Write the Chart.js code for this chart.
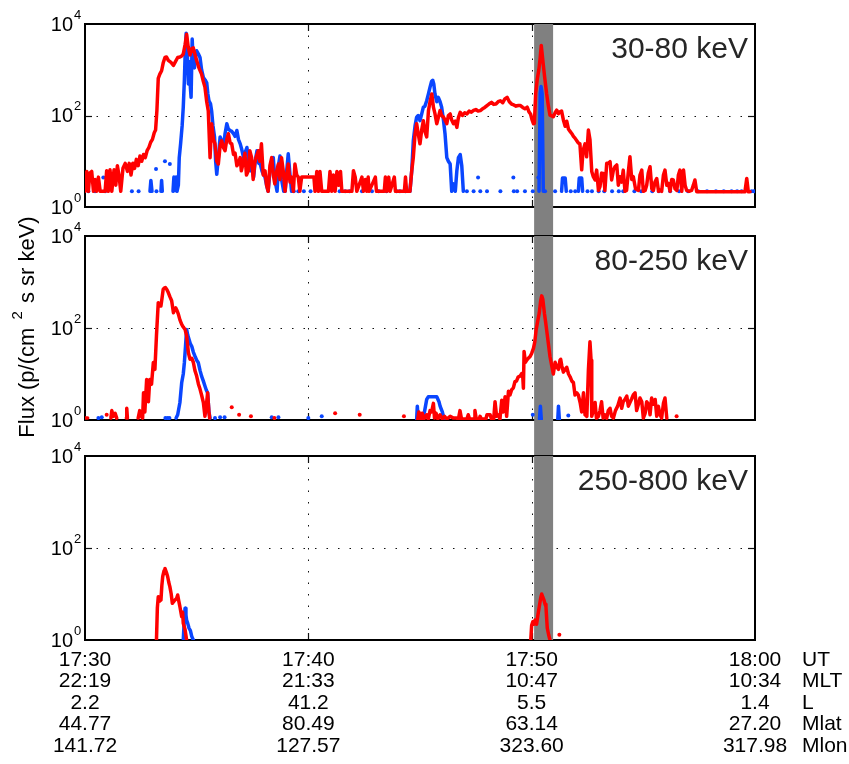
<!DOCTYPE html>
<html>
<head>
<meta charset="utf-8">
<script src="https://cdn.jsdelivr.net/npm/chart.js@4.4.0/dist/chart.umd.min.js"></script>
<style>
html, body { margin: 0; padding: 0; background: #fff; }
#wrap { position: relative; width: 849px; height: 764px; }
#wrap canvas { position: absolute; left: 0; top: 0; }
</style>
</head>
<body>
<div id="wrap">
<canvas id="p1" width="849" height="764"></canvas>
<canvas id="p2" width="849" height="764"></canvas>
<canvas id="p3" width="849" height="764"></canvas>
</div>
<script>
// time is in minutes after 17:30 UT, flux in p/(cm2 s sr keV)
var tickMinutes = [0, 10, 20, 30];
var utLabels = ['17:30', '17:40', '17:50', '18:00'];
var mltLabels = ['22:19', '21:33', '10:47', '10:34'];
var lLabels = ['2.2', '41.2', '5.5', '1.4'];
var mlatLabels = ['44.77', '80.49', '63.14', '27.20'];
var mlonLabels = ['141.72', '127.57', '323.60', '317.98'];
var rowNames = ['UT', 'MLT', 'L', 'Mlat', 'Mlon'];
var yTicks = [1, 100, 10000];
var panelTitles = ['30-80 keV', '80-250 keV', '250-800 keV'];
var band = [20.11, 20.96];

// 30-80 keV
var red1 = [
	[0.00,2.2],[0.08,6],[0.15,2.2],[0.22,5.5],[0.3,6],[0.38,2.2],[0.45,4],[0.52,2.2],[0.6,4.5],[0.68,2.2],[0.9,2.2],[0.97,6.2],
	[1.04,2.2],[1.12,6.5],[1.2,2.2],[1.3,6.5],[1.38,3],[1.45,8],[1.52,5],[1.6,2.2],[1.7,7],[1.8,9],[1.9,6],[1.98,9],[2.06,5],
	[2.14,9],[2.22,7],[2.3,11],[2.38,8],[2.46,13],[2.54,10],[2.62,14],[2.7,12],[2.78,17],[2.86,20],[2.94,26],[3.02,30],[3.1,42],
	[3.16,48],[3.22,130],[3.28,650],[3.35,800],[3.43,950],[3.5,1400],[3.58,1850],[3.65,1900],[3.73,1600],[3.85,1450],[3.96,1250],
	[4.05,1500],[4.15,1850],[4.25,1900],[4.33,2000],[4.4,2200],[4.48,3500],[4.55,6000],[4.62,3200],[4.7,2100],[4.78,2900],[4.85,3000],
	[4.92,2200],[5.0,1600],[5.1,1100],[5.22,800],[5.3,550],[5.37,420],[5.45,200],[5.52,125],[5.6,12],[5.67,66],[5.75,30],[5.82,24],
	[5.9,10],[5.97,8.7],[6.05,22],[6.12,28],[6.2,20],[6.27,17],[6.35,30],[6.42,40],[6.5,25],[6.57,24],[6.65,14],[6.72,15],[6.8,8],
	[6.87,9],[6.95,12],[7.0,6.2],[7.08,9],[7.16,15],[7.23,5],[7.31,6.2],[7.38,17],[7.46,12],[7.53,4],[7.6,9],[7.68,13],[7.76,17],
	[7.83,10],[7.9,24],[7.98,5],[8.06,6.2],[8.13,3],[8.2,2.2],[8.28,8],[8.36,12],[8.43,5],[8.5,3.2],[8.58,6],[8.66,8.7],[8.73,4],
	[8.8,12],[8.88,6],[8.96,2.2],[9.03,5],[9.1,8.7],[9.18,3.5],[9.25,4.5],[9.33,2.2],[9.4,8.7],[9.48,5],[9.55,4.5],[9.62,2.2],
	[9.7,4.5],[10.25,4.5],[10.3,2.2],[10.38,6],[10.45,2.2],[10.52,6],[10.6,2.2],[10.9,2.2],[10.97,6],[11.05,2.2],[11.12,5],[11.2,2.2],
	[11.28,6],[11.36,3],[11.44,6],[11.5,2.2],[11.95,2.2],[12.02,6.2],[12.1,4.5],[12.17,2.2],[12.4,4.5],[12.47,2.2],[12.55,4],[12.62,2.2],
	[12.68,4.5],[12.72,2.2],[13.0,4.5],[13.05,2.2],[13.4,2.2],[13.45,4.5],[13.52,2.2],[13.6,4.5],[13.66,2.2],[13.85,4.5],[13.9,2.2],
	[14.3,2.2],[14.35,4.5],[14.4,2.2],[14.55,2.2],[14.63,6.2],[14.7,12],[14.78,40],[14.85,66],[14.92,40],[15.0,24],[15.08,50],[15.15,77],
	[15.22,45],[15.3,34],[15.38,129],[15.45,200],[15.53,295],[15.6,152],[15.67,110],[15.75,66],[15.82,90],[15.9,129],[15.97,100],
	[16.05,92],[16.12,80],[16.2,66],[16.27,100],[16.35,108],[16.42,80],[16.5,66],[16.58,75],[16.65,55],[16.72,90],[16.8,117],[16.9,100],
	[17.0,115],[17.1,108],[17.2,125],[17.3,118],[17.4,129],[17.5,135],[17.6,125],[17.7,128],[17.8,140],[17.9,150],[18.0,165],[18.1,180],
	[18.2,194],[18.3,175],[18.4,178],[18.5,200],[18.6,210],[18.7,190],[18.8,230],[18.9,250],[19.0,200],[19.1,178],[19.2,170],[19.3,160],
	[19.4,165],[19.5,165],[19.6,150],[19.7,140],[19.8,152],[19.88,120],[19.95,108],[20.02,80],[20.08,66],[20.12,67],[20.18,300],
	[20.25,620],[20.32,980],[20.38,1800],[20.43,3400],[20.5,1600],[20.58,700],[20.67,300],[20.75,160],[20.82,102],[20.9,98],[20.97,94],
	[21.05,115],[21.12,131],[21.2,110],[21.27,120],[21.34,125],[21.42,80],[21.5,58],[21.57,75],[21.65,50],[21.72,45],[21.8,40],
	[21.87,35],[21.94,32],[22.02,28],[22.09,25],[22.16,24],[22.24,6.5],[22.3,17],[22.39,24],[22.46,12.5],[22.54,48],[22.61,30],
	[22.69,6],[22.76,4.6],[22.84,3.9],[22.91,6.4],[22.99,2.3],[23.06,2.8],[23.13,5.5],[23.21,5.4],[23.28,2.3],[23.36,9],[23.43,9],
	[23.51,9.8],[23.58,3.9],[23.66,6.4],[23.73,7.6],[23.81,8.3],[23.88,3],[23.96,4.6],[24.03,3.5],[24.1,6.4],[24.18,2.2],[24.25,2.3],
	[24.33,6],[24.4,12.6],[24.48,4],[24.55,4.6],[24.65,2.5],[24.78,2.3],[24.85,5],[24.93,6.4],[25.0,2.2],[25.08,2.3],[25.15,3],
	[25.22,5.5],[25.3,7.6],[25.38,2.5],[25.45,2.3],[25.52,3.5],[25.6,4.2],[25.68,2.2],[25.75,2.3],[25.82,2.2],[25.9,5],[25.97,6.4],
	[26.05,3],[26.12,3.3],[26.2,2.2],[26.27,4],[26.34,3.9],[26.42,2.5],[26.5,2.3],[26.57,5],[26.64,6.4],[26.72,2.2],[26.8,6.4],
	[26.87,3],[26.94,2.3],[27.05,2.2],[27.16,2.3],[27.24,3],[27.31,3.9],[27.39,2.15],[29.55,2.15],[29.63,4.2],[29.7,2.15],[29.78,2.15]
];
var blue1 = [
	[2.91,2.2],[2.95,3.8],[3.0,2.2],[3.06,null],
	[3.4,2.2],[3.43,3.8],[3.46,2.2],[3.5,null],
	[3.94,2.2],[3.98,4.5],[4.02,2.3],[4.08,4.5],[4.12,2.2],[4.18,3],[4.22,12],[4.28,24],[4.35,60],[4.4,152],[4.45,600],[4.48,1860],
	[4.53,6300],[4.58,2500],[4.63,490],[4.68,1500],[4.72,400],[4.75,250],[4.8,4700],[4.85,1200],[4.9,1100],[4.95,2000],[5.0,2600],
	[5.08,2200],[5.15,1860],[5.22,1000],[5.3,680],[5.38,600],[5.45,520],[5.5,300],[5.55,210],[5.62,180],[5.67,126],[5.73,60],[5.8,34],
	[5.85,10],[5.9,5.2],[5.97,12],[6.05,34],[6.12,28],[6.2,20],[6.27,40],[6.35,66],[6.42,50],[6.5,47],[6.57,45],[6.65,40],[6.72,35],
	[6.8,47],[6.87,30],[6.95,24],[7.02,18],[7.1,12],[7.18,16],[7.25,20],[7.33,10],[7.4,6.2],[7.48,8],[7.55,4.5],[7.62,10],[7.7,17],
	[7.78,9],[7.85,8.7],[7.93,6],[8.0,5],[8.06,4.5],[8.13,3],[8.2,2.2],[8.28,6],[8.36,10],[8.43,12],[8.5,4],[8.6,2.2],[8.66,8],
	[8.73,13],[8.8,4],[8.9,2.2],[8.96,2.2],[9.03,6],[9.1,14.5],[9.18,5],[9.25,2.2],[9.3,null],
	[14.55,2.2],[14.63,6.2],[14.7,28],[14.78,60],[14.85,92],[14.92,100],[15.0,77],[15.08,110],[15.15,152],[15.22,160],[15.3,210],
	[15.38,300],[15.45,417],[15.52,560],[15.57,590],[15.62,480],[15.67,295],[15.75,200],[15.82,250],[15.9,200],[15.97,152],[16.05,80],
	[16.12,40],[16.2,12],[16.27,10],[16.35,8.7],[16.42,2.2],[16.5,3.2],[16.58,2.2],[16.65,6.2],[16.72,12],[16.8,14],[16.87,8],
	[16.94,2.2],[17.0,null],
	[20.33,2.2],[20.38,300],[20.42,430],[20.47,300],[20.52,2.2],[20.55,null],
	[21.34,2.2],[21.38,4.3],[21.5,4.3],[21.55,2.2],[21.6,null],
	[22.09,2.2],[22.13,4.3],[22.24,4.3],[22.28,2.2]
];
var blueDots1 = [
	[0.15,2.2],[0.45,2.2],[0.82,4.4],[0.9,2.2],[2.1,2.2],[2.4,2.2],[3.18,6.8],[3.2,2.2],[3.58,10],[3.8,8.7],
	[9.35,2.2],[9.55,2.2],[9.8,2.2],[10.1,2.2],[11.4,2.2],[11.65,2.2],[11.85,2.2],[12.4,2.2],[12.85,2.2],[13.15,2.2],[13.5,2.2],
	[13.95,2.2],[14.1,2.2],[14.35,2.2],[17.1,2.2],[17.4,2.2],[17.6,4.4],[17.7,2.2],[18.0,2.2],[18.6,2.2],[19.18,4.4],[19.2,2.2],
	[19.35,2.2],[19.7,2.2],[20.05,2.2],[20.3,4.4],[20.6,2.2],[21.05,2.2],[21.75,2.2],[21.95,2.2],[22.5,2.2],[22.7,2.2],[23.0,2.2],
	[23.25,2.2],[23.6,2.2],[23.9,2.2],[24.1,2.2],[24.6,2.2],[24.9,2.2],[25.4,2.2],[25.7,2.2],[26.2,2.2],[26.6,2.2],[27.0,2.2],
	[27.45,2.2],[27.85,2.2],[28.25,2.2],[28.6,2.2],[28.95,2.2],[29.2,2.2],[29.4,2.2],[29.85,2.2],[29.95,2.2]
];
var redDots1 = [];

// 80-250 keV
var red2 = [
	[0.0,1.1],[0.12,1.1],[0.2,null],
	[1.16,1.1],[1.2,1.6],[1.27,1.2],[1.35,1.4],[1.42,1.1],[1.5,null],
	[1.85,1.1],[1.87,1.8],[1.9,1.1],[2.0,null],
	[2.38,1.1],[2.45,1.6],[2.52,1.2],[2.58,1.1],[2.62,3.9],[2.68,1.5],[2.76,7.6],[2.84,2.5],[2.9,7.6],[2.98,6],[3.06,17.8],[3.13,12.6],
	[3.2,68],[3.28,355],[3.35,300],[3.4,300],[3.45,450],[3.5,690],[3.55,740],[3.6,760],[3.67,680],[3.73,590],[3.8,480],[3.88,390],
	[3.96,215],[4.02,260],[4.06,275],[4.12,240],[4.18,200],[4.25,150],[4.33,120],[4.4,105],[4.48,93],[4.55,68],[4.6,40],[4.63,29],
	[4.7,21],[4.78,22],[4.85,18],[4.92,12],[5.0,9],[5.08,6],[5.15,4.7],[5.22,3.5],[5.3,2.4],[5.37,1.2],[5.43,2],[5.49,3.9],[5.55,1.5],
	[5.58,1.1],[5.7,null],
	[14.9,1.05],[14.95,1.5],[15.02,1.05],[15.1,1.4],[15.17,1.05],[15.3,1.3],[15.37,1.05],[15.45,1.6],[15.52,1.5],[15.6,2.3],[15.65,1.1],
	[15.72,1.4],[15.8,1.05],[15.9,1.3],[16.0,1.05],[16.1,1.2],[16.2,1.05],[16.35,1.2],[16.5,1.1],[16.64,1.1],[16.72,1.05],[16.79,1.6],
	[16.86,1.05],[17.1,1.05],[17.16,1.3],[17.22,1.05],[17.42,1.05],[17.46,1.6],[17.52,1.05],[17.65,1.05],[17.69,1.2],[17.75,1.05],
	[17.95,1.05],[18.0,1.3],[18.14,1.3],[18.2,1.05],[18.3,1.05],[18.36,2.5],[18.43,1.2],[18.5,1.3],[18.58,1.05],[18.66,2.7],[18.73,1.5],
	[18.81,3.2],[18.88,1.2],[18.96,4.2],[19.03,3.5],[19.1,4.5],[19.18,5],[19.25,6.8],[19.32,7],[19.4,8.7],[19.48,9],[19.55,10.2],
	[19.6,9],[19.63,4.9],[19.66,31],[19.72,18],[19.78,20],[19.85,22],[19.93,24],[20.0,28],[20.08,36],[20.14,50],[20.2,91],[20.27,140],
	[20.34,210],[20.4,380],[20.45,500],[20.5,420],[20.57,210],[20.62,140],[20.67,91],[20.75,45],[20.82,24],[20.9,15],[20.97,10],
	[21.05,18],[21.12,14.4],[21.2,12.6],[21.27,20],[21.3,21],[21.35,15],[21.42,11],[21.5,12.6],[21.57,14],[21.65,10],[21.72,8.7],
	[21.8,7],[21.87,6.5],[21.94,3.5],[22.02,3.9],[22.09,3.5],[22.17,2.4],[22.24,1.5],[22.32,3.9],[22.39,1.3],[22.47,1.2],[22.54,12],
	[22.61,50],[22.66,20],[22.69,1.2],[22.76,1.6],[22.84,2.4],[22.9,1.1],[22.99,1.2],[23.06,1.6],[23.13,2.5],[23.2,1.1],[23.28,1.3],
	[23.36,1.1],[23.43,1.6],[23.51,1.8],[23.58,1.2],[23.66,1.1],[23.75,1.6],[23.85,2],[23.96,3],[24.03,1.8],[24.1,2.5],[24.18,2.8],
	[24.26,3.3],[24.33,2],[24.4,2.4],[24.48,2.9],[24.55,3.5],[24.63,3.9],[24.7,1.6],[24.78,2.2],[24.85,3],[24.93,2.5],[25.0,1.1],
	[25.08,1.4],[25.15,2.5],[25.23,2.2],[25.3,1.3],[25.37,3],[25.45,2.2],[25.53,2.8],[25.6,1.2],[25.67,2],[25.75,1.3],[25.82,1.1],
	[25.9,2.3],[25.97,3],[26.05,1.1]
];
var blue2 = [
	[4.08,1.1],[4.15,1.3],[4.25,2.4],[4.33,6.5],[4.4,10],[4.45,17.8],[4.5,40],[4.55,93],[4.6,70],[4.66,56],[4.72,45],[4.78,40],
	[4.85,30],[4.93,24],[5.0,20],[5.07,17.8],[5.15,12],[5.22,9],[5.3,7],[5.37,5.5],[5.43,4.5],[5.49,3.9],[5.55,1.5],[5.6,1.1],[5.7,null],
	[14.85,1.05],[14.88,2],[14.92,1.05],[15.1,1.05],[15.2,1.5],[15.3,2.8],[15.37,3.2],[15.55,3.2],[15.75,3.2],[15.85,2.5],[15.9,2],
	[16.0,1.5],[16.05,1.2],[16.1,1.05],[16.2,null],
	[20.35,1.05],[20.39,2],[20.43,1.05],[20.5,null],
	[21.17,1.05],[21.2,2],[21.24,1.05]
];
var redDots2 = [[0.97,1.3],[6.57,1.9],[6.9,1.3],[7.43,1.2],[8.48,1.1],[11.2,1.4],[12.3,1.3],[14.28,1.2],[26.49,1.2]];
var blueDots2 = [[0.6,1.1],[0.75,1.15],[1.2,1.2],[3.6,1.1],[3.7,1.1],[3.78,1.1],[5.82,1.1],[6.05,1.15],[6.25,1.15],[8.36,1.15],
	[8.66,1.15],[10.0,1.1],[10.6,1.2],[20.05,1.3],[21.64,1.25]];

// 250-800 keV
var red3 = [
	[3.2,1],[3.24,5],[3.28,8.7],[3.34,7],[3.4,7.4],[3.44,15],[3.48,24],[3.54,32],[3.58,36],[3.64,30],[3.7,24],[3.75,18],[3.8,14.5],
	[3.86,10],[3.91,6.3],[3.97,6.8],[4.03,7.4],[4.1,8],[4.15,9.5],[4.2,7],[4.25,5.3],[4.33,3.2],[4.37,4],[4.4,2.3],[4.48,1.7],[4.55,1],
	[4.7,null],
	[19.96,1],[20.0,2.1],[20.05,2.5],[20.1,2.2],[20.15,2.7],[20.22,2.2],[20.28,3.5],[20.34,5.3],[20.4,8],[20.45,10],[20.5,8.5],
	[20.55,7.4],[20.6,6],[20.64,5.3],[20.68,2.5],[20.7,1.8],[20.76,1.3],[20.82,1]
];
var blue3 = [[4.4,1],[4.45,3],[4.48,4.9],[4.52,3.5],[4.55,2.7],[4.6,2.3],[4.66,1.8],[4.72,1.6],[4.78,1.2],[4.85,1]];
var redDots3 = [[21.24,1.3]];
var blueDots3 = [];

var FONT = '"Liberation Sans", Arial, sans-serif';
var RED = '#ff0000';
var BLUE = '#0a46ff';
var W = 849, H = 764;
var plotLeft = 85, plotRight = 755;

function pts(arr) {
	return arr.map(function(p){ return {x: p[0], y: p[1]}; });
}

function line(ctx, x0, y0, x1, y1) {
	ctx.beginPath(); ctx.moveTo(x0, y0); ctx.lineTo(x1, y1); ctx.stroke();
}

var framePlugin = {
	id: 'frame',
	beforeDatasetsDraw: function(chart, args, opts) {
		var ctx = chart.ctx, a = chart.chartArea, x = chart.scales.x, y = chart.scales.y;
		ctx.save();
		// dotted grid
		ctx.strokeStyle = '#111';
		ctx.lineWidth = 1;
		ctx.setLineDash([1.5, 10]);
		[10, 20].forEach(function(m){
			var px = Math.round(x.getPixelForValue(m)) + 0.5;
			line(ctx, px, a.top, px, a.bottom);
		});
		var gy = Math.round(y.getPixelForValue(100)) + 0.5;
		line(ctx, a.left, gy, a.right, gy);
		ctx.setLineDash([]);
		// inward tick marks
		ctx.lineWidth = 1.2;
		[10, 20].forEach(function(m){
			var px = Math.round(x.getPixelForValue(m)) + 0.5;
			line(ctx, px, a.bottom, px, a.bottom - 7);
			line(ctx, px, a.top, px, a.top + 7);
		});
		line(ctx, a.left, gy, a.left + 7, gy);
		line(ctx, a.right, gy, a.right - 7, gy);
		// box
		ctx.lineWidth = 2;
		ctx.strokeStyle = '#000';
		ctx.strokeRect(a.left, a.top, a.right - a.left, a.bottom - a.top);
		// shaded interval
		var b0 = x.getPixelForValue(band[0]), b1 = x.getPixelForValue(band[1]);
		ctx.fillStyle = '#808080';
		ctx.fillRect(b0, opts.bandTop, b1 - b0, opts.bandBottom - opts.bandTop);
		ctx.restore();
	},
	afterDraw: function(chart, args, opts) {
		var ctx = chart.ctx, a = chart.chartArea, x = chart.scales.x, y = chart.scales.y;
		ctx.save();
		ctx.fillStyle = '#000';
		// log tick labels 10^n
		yTicks.forEach(function(v){
			var py = y.getPixelForValue(v);
			ctx.font = '20px ' + FONT;
			ctx.textAlign = 'right';
			ctx.textBaseline = 'middle';
			ctx.fillText('10', 73, py + 1);
			ctx.font = '13px ' + FONT;
			ctx.textAlign = 'left';
			ctx.fillText(String(Math.round(Math.log10(v))), 74, py - 9);
		});
		// panel title
		ctx.fillStyle = '#262626';
		ctx.font = '30px ' + FONT;
		ctx.textAlign = 'right';
		ctx.textBaseline = 'alphabetic';
		ctx.fillText(opts.title, 748, a.top + 34);
		ctx.fillStyle = '#000';
		if (opts.yTitle) {
			ctx.translate(28, 327);
			ctx.rotate(-Math.PI / 2);
			var s1 = 'Flux (p/(cm ', s2 = '2', s3 = ' s sr keV)';
			ctx.font = '22px ' + FONT;
			var w1 = ctx.measureText(s1).width, w3 = ctx.measureText(s3).width;
			ctx.font = '15px ' + FONT;
			var w2 = ctx.measureText(s2).width + 4;
			var start = -(w1 + w2 + w3) / 2;
			ctx.textAlign = 'left';
			ctx.textBaseline = 'middle';
			ctx.font = '22px ' + FONT;
			ctx.fillText(s1, start, 0);
			ctx.font = '15px ' + FONT;
			ctx.fillText(s2, start + w1 + 2, -10);
			ctx.font = '22px ' + FONT;
			ctx.fillText(s3, start + w1 + w2, 0);
		}
		if (opts.rowNames) {
			ctx.setTransform(1, 0, 0, 1, 0, 0);
			ctx.font = '21px ' + FONT;
			ctx.textAlign = 'left';
			ctx.textBaseline = 'middle';
			rowNames.forEach(function(n, i){
				ctx.fillText(n, 802, x.top + opts.labelPad + 10.75 + i * 21.5);
			});
		}
		ctx.restore();
	}
};

function makePanel(id, top, bottom, title, sets, extra) {
	var isLast = !!extra.isLast;
	var lineStyle = { borderWidth: 3.5, pointRadius: 0, spanGaps: false, tension: 0,
		borderJoinStyle: 'round', borderCapStyle: 'round' };
	var ds = [
		Object.assign({ data: pts(sets.red), borderColor: RED }, lineStyle),
		{ data: pts(sets.redDots), showLine: false, pointRadius: 2, pointBorderWidth: 0, pointBackgroundColor: RED, borderColor: RED },
		Object.assign({ data: pts(sets.blue), borderColor: BLUE }, lineStyle),
		{ data: pts(sets.blueDots), showLine: false, pointRadius: 2, pointBorderWidth: 0, pointBackgroundColor: BLUE, borderColor: BLUE }
	];
	var labelPad = 9;
	return new Chart(document.getElementById(id), {
		type: 'line',
		data: { datasets: ds },
		options: {
			responsive: false,
			animation: false,
			events: [],
			layout: { padding: { top: top, left: plotLeft, right: W - plotRight, bottom: isLast ? 0 : H - bottom } },
			plugins: {
				legend: { display: false },
				tooltip: { enabled: false },
				frame: { title: title, bandTop: extra.bandTop, bandBottom: extra.bandBottom,
					yTitle: extra.yTitle, rowNames: isLast, labelPad: labelPad }
			},
			scales: {
				x: {
					type: 'linear', min: 0, max: 30,
					display: isLast,
					grid: { display: false, drawTicks: false },
					border: { display: false },
					afterBuildTicks: function(s){ s.ticks = tickMinutes.map(function(v){ return {value: v}; }); },
					afterFit: function(s){ s.height = isLast ? H - bottom : 0; },
					ticks: {
						autoSkip: false, maxRotation: 0, padding: labelPad, color: '#000',
						font: { family: FONT, size: 21, lineHeight: 1.025 },
						callback: function(v, i){ return [utLabels[i], mltLabels[i], lLabels[i], mlatLabels[i], mlonLabels[i]]; }
					}
				},
				y: {
					type: 'logarithmic', min: 1, max: 10000,
					display: false
				}
			}
		},
		plugins: [framePlugin]
	});
}

makePanel('p1', 24, 207, panelTitles[0], { red: red1, redDots: redDots1, blue: blue1, blueDots: blueDots1 },
	{ bandTop: 24, bandBottom: 236 });
makePanel('p2', 236, 420, panelTitles[1], { red: red2, redDots: redDots2, blue: blue2, blueDots: blueDots2 },
	{ bandTop: 236, bandBottom: 456, yTitle: true });
makePanel('p3', 456, 640, panelTitles[2], { red: red3, redDots: redDots3, blue: blue3, blueDots: blueDots3 },
	{ bandTop: 456, bandBottom: 640, isLast: true });
</script>
</body>
</html>
